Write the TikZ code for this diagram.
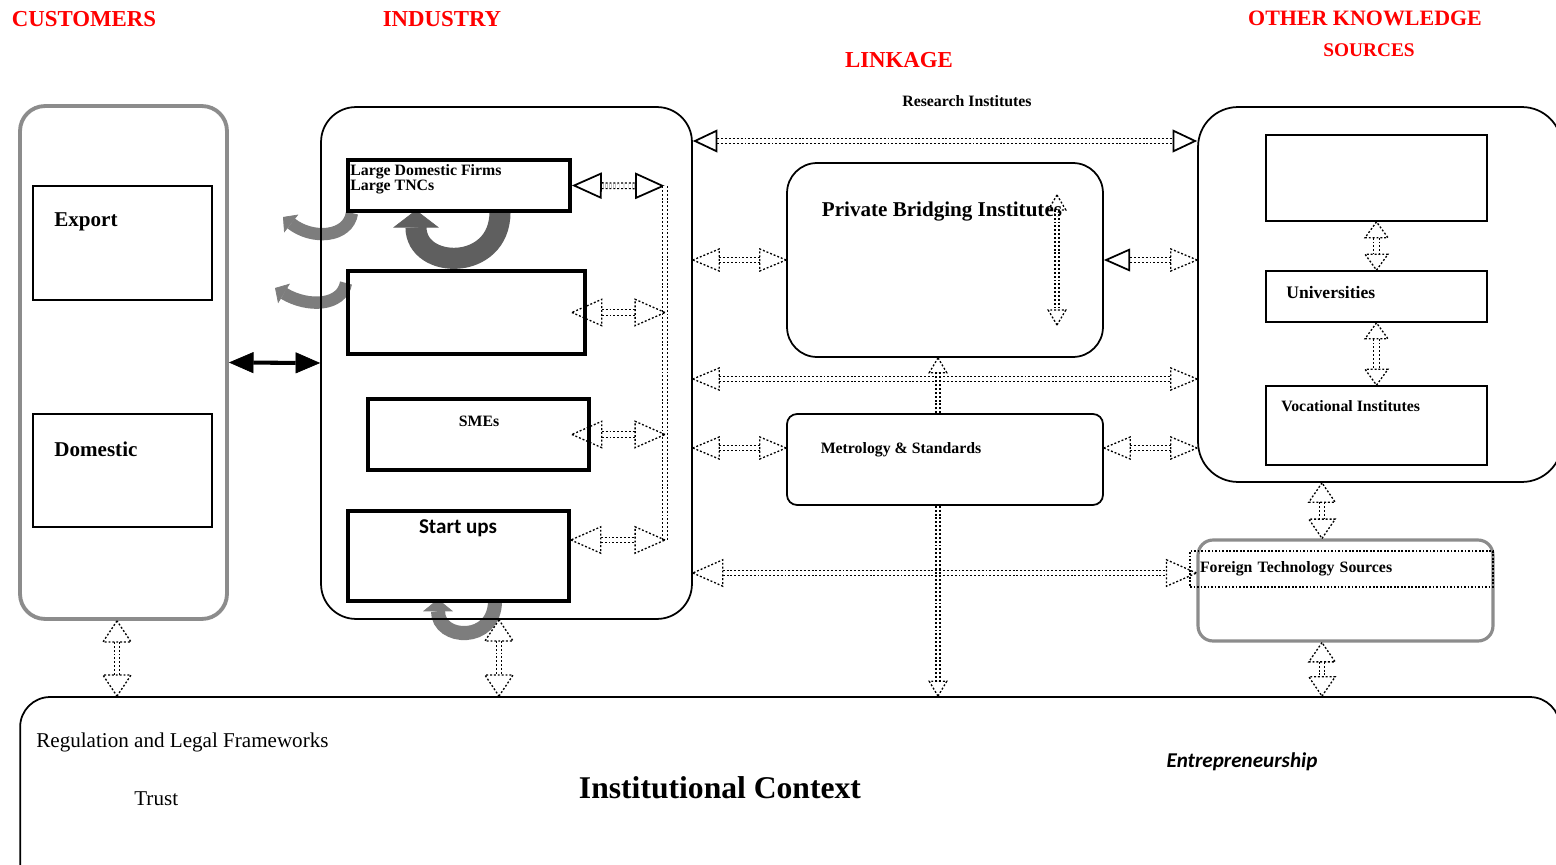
\documentclass[tikz,border=0pt]{standalone}
\usepackage{fontspec}
\setmainfont{Liberation Serif}
\newfontfamily\calibri{Carlito}
\usetikzlibrary{positioning, arrows.meta, calc}

% hollow arrow head drawn with a dotted outline
\pgfdeclarearrow{
  name = DotTri,
  parameters = {\the\pgfarrowlength,\the\pgfarrowwidth},
  setup code = {
    \pgfarrowssettipend{0pt}
    \pgfarrowssetlineend{-\pgfarrowlength}
    \pgfarrowssetbackend{-\pgfarrowlength}
    \pgfarrowssavethe\pgfarrowlength
    \pgfarrowssavethe\pgfarrowwidth
  },
  drawing code = {
    \pgfsetdash{{1.1pt}{1.1pt}}{0pt}
    \pgfpathmoveto{\pgfqpoint{0pt}{0pt}}
    \pgfpathlineto{\pgfqpoint{-\pgfarrowlength}{.5\pgfarrowwidth}}
    \pgfpathlineto{\pgfqpoint{-\pgfarrowlength}{-.5\pgfarrowwidth}}
    \pgfpathclose
    \pgfusepathqstroke
  },
  defaults = {length = 10pt, width = 10pt}
}

\definecolor{boxgray}{RGB}{140,140,140}
\definecolor{arrgray}{RGB}{125,125,125}
\definecolor{darkarr}{RGB}{95,95,95}

\tikzset{
  box/.style={draw, line width=1pt, inner sep=0pt},
  firm/.style={draw, line width=2.2pt, inner sep=0pt},
  gbox/.style={draw=boxgray, line width=2.2pt, inner sep=0pt},
  hd/.style={text=red, font=\bfseries\fontsize{13}{15}\selectfont},
  lab/.style={font=\bfseries\fontsize{9}{11}\selectfont, inner sep=0pt},
  labbig/.style={font=\bfseries\fontsize{12}{14}\selectfont, inner sep=0pt},
  dshaft/.style 2 args={preaction={draw, -, double, double distance=2.4pt, line width=.75pt, dash pattern=on 1.1pt off 1.1pt, shorten <=#1, shorten >=#2}},
  nshaft/.style 2 args={preaction={draw, -, double, double distance=1.4pt, line width=.75pt, dash pattern=on 1.1pt off 1.1pt, shorten <=#1, shorten >=#2}},
  tipsonly/.style={line width=.75pt, dash pattern=on 0pt off 400pt},
  dlink/.style 2 args={dshaft={#1}{#1}, tipsonly, {DotTri[length=#1,width=#2]}-{DotTri[length=#1,width=#2]}},
  nlink/.style 2 args={nshaft={#1}{#1}, tipsonly, {DotTri[length=#1,width=#2]}-{DotTri[length=#1,width=#2]}},
  slink/.style 2 args={dshaft={#1}{#1}, tipsonly, {Triangle[open,line width=1pt,length=#1,width=#2]}-{Triangle[open,line width=1pt,length=#1,width=#2]}},
  curvy/.style={draw=#1, line width=7pt},
}

\begin{document}
\begin{tikzpicture}[x=0.02cm, y=-0.02cm]
	\useasboundingbox (0,0) rectangle (1556,865);
	\clip (0,0) rectangle (1556,865);
	
	% gray loop arrows
	\coordinate (loopA) at (500,212);
	\coordinate (loopB) at (416,210);
	\coordinate (loopC) at (495,601);
	\coordinate (loopD) at (438,599);
	\coordinate (loopE) at (352,213);
	\coordinate (loopF) at (283,217);
	\coordinate (loopG) at (346,283);
	\coordinate (loopH) at (275,288);
	\draw[curvy=darkarr, line width=12pt, -{Triangle[length=10pt,width=26pt,line width=.4pt]}] (loopA) .. controls +(0,60) and +(0,60) .. (loopB);
	\draw[curvy=arrgray, line width=8pt, -{Triangle[length=7pt,width=17pt,line width=.4pt]}] (loopC) .. controls +(0,42) and +(0,42) .. (loopD);
	\draw[curvy=arrgray, -{Triangle[length=6pt,width=13pt,line width=.4pt]}] (loopE) .. controls (348,238) and (312,240) .. (loopF);
	\draw[curvy=arrgray, -{Triangle[length=6pt,width=13pt,line width=.4pt]}] (loopG) .. controls (342,306) and (308,308) .. (loopH);
	
	% headers
	\node[hd] (hCust) at (84,19) {CUSTOMERS};
	\node[hd] (hInd) at (442,19) {INDUSTRY};
	\node[hd] (hLink) at (899,60) {LINKAGE};
	\node[hd, font=\bfseries\fontsize{12.5}{14}\selectfont] (hOther) at (1365,18) {OTHER KNOWLEDGE};
	\node[hd, font=\bfseries\fontsize{11}{13}\selectfont] (hSources) at (1369,50) {SOURCES};
	
	% customers
	\node[gbox, rounded corners=0.5cm, minimum width=4.14cm, minimum height=10.26cm] (cust) at (123.5,362.5) {};
	\node[box, minimum width=3.58cm, minimum height=2.28cm] (export) at (122.5,243) {};
	\node[labbig, anchor=west] (exportTxt) at (54,222) {Export};
	\node[box, minimum width=3.58cm, minimum height=2.26cm] (domestic) at (122.5,470.5) {};
	\node[labbig, anchor=west] (domesticTxt) at (54,449) {Domestic};
	
	% industry
	\node[box, rounded corners=0.7cm, minimum width=7.42cm, minimum height=10.24cm] (ind) at (506.5,363) {};
	\node[firm, minimum width=4.44cm, minimum height=1.02cm] (lds) at (459,185.5) {};
	\node[lab, anchor=base west] (ldsTxt) at (350,175) {Large Domestic Firms};
	\node[lab, anchor=base west] (tncTxt) at (350,191) {Large TNCs};
	\node[firm, minimum width=4.74cm, minimum height=1.66cm] (mid) at (466.5,312.5) {};
	\node[firm, minimum width=4.42cm, minimum height=1.42cm] (smes) at (478.5,434.5) {};
	\node[lab] (smesTxt) at (479,421) {SMEs};
	\node[firm, minimum width=4.42cm, minimum height=1.80cm] (start) at (458.5,556) {};
	\node[font=\calibri\bfseries\fontsize{12}{14}\selectfont, inner sep=0pt] (startTxt) at (458,528) {Start ups};
	
	% linkage
	\node[lab] (riTxt) at (967,101) {Research Institutes};
	\node[box, rounded corners=0.6cm, minimum width=6.32cm, minimum height=3.88cm] (pbi) at (945,260) {};
	\node[labbig] (pbiTxt) at (942,212) {Private Bridging Institutes};
	\node[box, rounded corners=0.2cm, minimum width=6.32cm, minimum height=1.82cm] (metro) at (945,459.5) {};
	\node[lab] (metroTxt) at (901,450) {Metrology \& Standards};
	
	% other knowledge sources
	\node[box, rounded corners=0.8cm, minimum width=7.28cm, minimum height=7.5cm] (oks) at (1380,294.5) {};
	\node[box, minimum width=4.42cm, minimum height=1.72cm] (kb) at (1376.5,178) {};
	\node[box, minimum width=4.42cm, minimum height=1.02cm] (univ) at (1376.5,296.5) {};
	\node[lab, font=\bfseries\fontsize{10}{12}\selectfont, anchor=west] (univTxt) at (1286,292) {Universities};
	\node[box, minimum width=4.42cm, minimum height=1.58cm] (voc) at (1376.5,425.5) {};
	\node[lab, anchor=west] (vocTxt) at (1281,406) {Vocational Institutes};
	\node[gbox, line width=1.8pt, rounded corners=0.3cm, minimum width=5.9cm, minimum height=2.02cm] (fts) at (1345.5,590.5) {};
	\node[lab, draw, dash pattern=on 1pt off 1pt, line width=.7pt, inner xsep=0.2cm, text width=5.66cm, minimum height=0.72cm, align=left] (ftsTxt) at (1341.5,569) {Foreign Technology Sources};
	
	% institutional context
	\node[box, rounded corners=0.6cm, minimum width=30.8cm, minimum height=4.16cm] (inst) at (790,801) {};
	\node[font=\fontsize{12}{14}\selectfont, anchor=west, inner sep=0pt] (regTxt) at (36,742) {Regulation and Legal Frameworks};
	\node[font=\fontsize{12}{14}\selectfont, anchor=west, inner sep=0pt] (trustTxt) at (134,799) {Trust};
	\node[font=\bfseries\fontsize{18}{21}\selectfont] (instTxt) at (720,788) {Institutional Context};
	\node[font=\calibri\bfseries\itshape\fontsize{12}{14}\selectfont] (entTxt) at (1242,762) {Entrepreneurship};
	
	% levels and columns of the links
	\coordinate (busT) at (665,186);
	\coordinate (busB) at (665,540);
	\coordinate (lvlRI) at (0,141);
	\coordinate (lvlC) at (0,379);
	\coordinate (lvlM) at (0,448);
	\coordinate (lvlF) at (0,573);
	\coordinate (colC) at (117,0);
	\coordinate (colS) at (499,0);
	\coordinate (colV) at (938,0);
	\coordinate (colFT) at (1322,0);
	\coordinate (pbiUp) at (1057,195);
	\coordinate (pbiDn) at (1057,325);
	
	\draw[line width=2.3pt, {Triangle[length=14pt,width=12pt,line width=.4pt]}-{Triangle[length=14pt,width=12pt,line width=.4pt]}] (cust.east) -- (ind.west);
	
	\draw[slink={17pt}{15pt}] (lds.east) -- (busT);
	\path[dshaft={0pt}{0pt}] (busT) -- (busB);
	\draw[dlink={17pt}{15pt}] ([xshift=-0.3cm]mid.east) -- (busT |- mid.east);
	\draw[dlink={17pt}{15pt}] ([xshift=-0.38cm]smes.east) -- (busT |- smes.east);
	\draw[dlink={17pt}{15pt}] (start.east |- busB) -- (busB);
	
	\draw[slink={14pt}{13pt}] (ind.east |- lvlRI) -- (oks.west |- lvlRI);
	\draw[dlink={15pt}{12.5pt}] (ind.east |- pbi.west) -- (pbi.west);
	\draw[dshaft={15pt}{15pt}, tipsonly, {Triangle[open,line width=1pt,length=15pt,width=13pt]}-{DotTri[length=15pt,width=12.5pt]}] (pbi.east) -- (oks.west |- pbi.east);
	\draw[dlink={15pt}{12.5pt}] (ind.east |- lvlC) -- (oks.west |- lvlC);
	\draw[dlink={15pt}{12.5pt}] (ind.east |- lvlM) -- (metro.west |- lvlM);
	\draw[dlink={15pt}{12.5pt}] (metro.east |- lvlM) -- (oks.west |- lvlM);
	\draw[dlink={17pt}{15pt}] (ind.east |- lvlF) -- (fts.west |- lvlF);
	
	\draw[nlink={8.5pt}{10pt}] (pbiUp) -- (pbiDn);
	\draw[nshaft={0pt}{8.5pt}, tipsonly, -{DotTri[length=8.5pt,width=10pt]}] (colV |- metro.north) -- (colV |- pbi.south);
	\draw[nshaft={0pt}{8.5pt}, tipsonly, -{DotTri[length=8.5pt,width=10pt]}] (colV |- metro.south) -- (colV |- inst.north);
	
	\draw[dlink={9pt}{13pt}] (kb.south) -- (univ.north);
	\draw[dlink={9pt}{13pt}] (univ.south) -- (voc.north);
	\draw[dlink={11pt}{15pt}] (colFT |- oks.south) -- (colFT |- fts.north);
	\draw[dlink={11pt}{15pt}] (colFT |- fts.south) -- (colFT |- inst.north);
	\draw[dlink={12pt}{16pt}] (colC |- cust.south) -- (colC |- inst.north);
	\draw[dlink={12pt}{16pt}] (colS |- ind.south) -- (colS |- inst.north);
\end{tikzpicture}
\end{document}
